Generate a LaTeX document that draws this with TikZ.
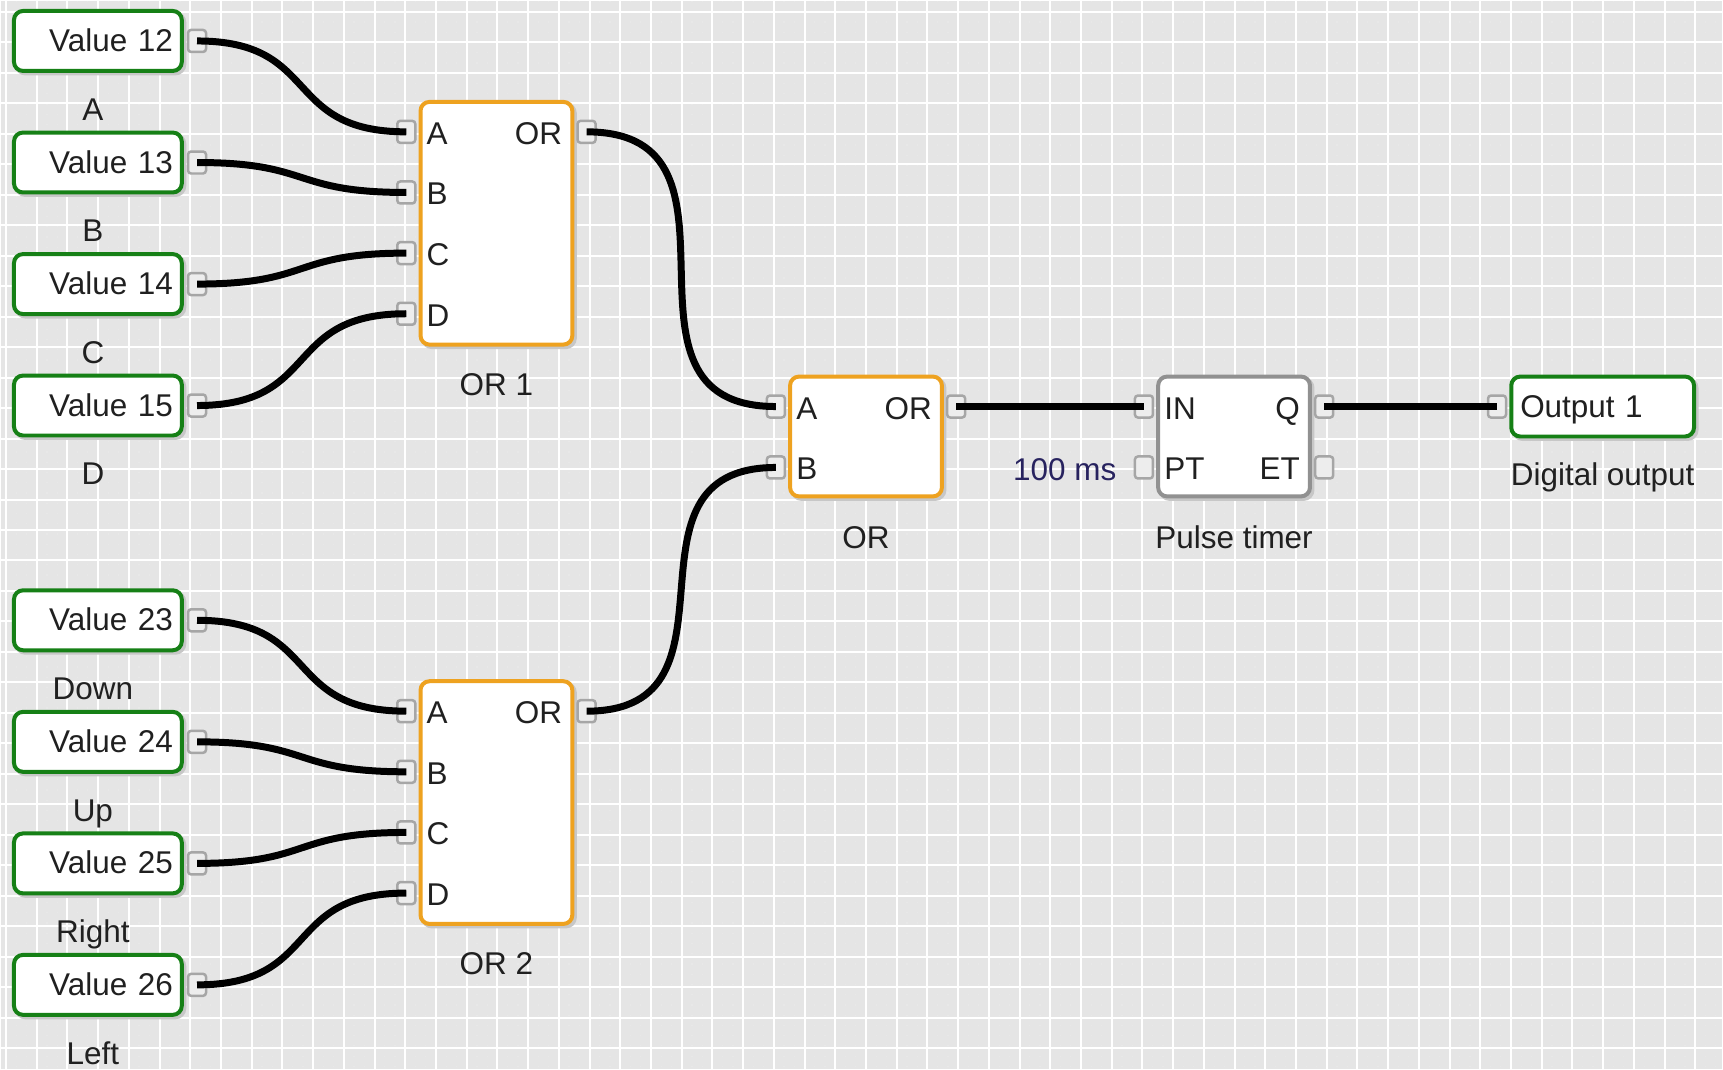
\documentclass[tikz,border=0pt]{standalone}
\usepackage{fontspec}
\setmainfont{Liberation Sans}
\usetikzlibrary{positioning,calc}

\definecolor{gridbg}{RGB}{229,229,229}
\definecolor{valgreen}{RGB}{22,128,22}
\definecolor{gateorange}{RGB}{238,162,32}
\definecolor{tmrgray}{RGB}{145,145,145}
\definecolor{msblue}{RGB}{40,35,95}
\definecolor{txtgray}{RGB}{32,32,32}

\tikzset{
    gridline/.style={white, line width=2pt},
    subgrid/.style={black!9, line width=1.2pt, dash pattern=on 1.2pt off 9.05pt},
    blk/.style={draw, fill=white, line width=4pt, rounded corners=9pt, inner sep=0pt,
        preaction={draw=black!22, line width=4pt, transform canvas={shift={(2.5pt,-2.5pt)}}}},
    valbox/.style={blk, draw=valgreen, minimum height=60pt, text width=150pt, align=right,
        inner xsep=9pt, text height=21pt, text depth=0pt},
    outbox/.style={blk, draw=valgreen, minimum height=60pt, text width=165pt, align=left,
        inner xsep=9pt, text height=21pt, text depth=0pt},
    orbox/.style={blk, draw=gateorange, minimum width=152pt},
    tmrbox/.style={blk, draw=tmrgray, minimum width=152pt, minimum height=120pt},
    portbox/.style={draw=black!35, fill=black!7, line width=2.5pt, rounded corners=3pt,
        minimum width=18pt, minimum height=22pt, inner sep=0pt},
    pintxt/.style={inner sep=0pt, text height=21pt, text depth=0pt},
    lbl/.style={inner sep=0pt, text height=21pt, text depth=0pt},
    wire/.style={black, line width=7pt}
}

\begin{document}
\begin{tikzpicture}[x=1pt, y=-1pt,
        every node/.append style={font=\fontsize{31.5}{36}\selectfont, text=txtgray}]
        % background grid
        \fill[gridbg] (0,0) rectangle (1723,1069);
        \foreach \i in {0,...,55} {
            \draw[subgrid] ({15.25+30.75*\i},0) -- ++(0,1069);
            \draw[subgrid] ({25.5+30.75*\i},0) -- ++(0,1069);
            \draw[gridline] ({5+30.75*\i},0) -- ++(0,1069);
        }
        \foreach \j in {0,...,34} \draw[gridline] (0,{10.6+30.53*\j}) -- ++(1723,0);
        \useasboundingbox (0,0) rectangle (1723,1069);

        % input values
        \foreach \n/\y/\t in {12/40/A, 13/161.7/B, 14/283.4/C, 15/405/D,
                23/620/Down, 24/741.7/Up, 25/863.4/Right, 26/985/Left} {
            \node[valbox] (v\n) at (97,\y) {Value \n};
            \node[portbox, anchor=west] (v\n-o) at ($(v\n.east)+(3,0)$) {};
            \node[lbl] at (92,\y+69) {\t};
        }

        % OR gates with four inputs
        \node[orbox, minimum height=243pt] (or1) at (496,222.5) {};
        \node[orbox, minimum height=243pt] (or2) at (496,802.5) {};
        \foreach \g in {or1,or2} {
            \foreach \p [count=\k from 0] in {A,B,C,D} {
                \node[portbox, anchor=east] (\g-\p) at ($(\g.north west)+(-2,32+60.7*\k)$) {};
                \node[pintxt, anchor=west] at ($(\g.north west)+(8,34+60.7*\k)$) {\p};
            }
            \node[portbox, anchor=west] (\g-o) at ($(\g.north east)+(2,32)$) {};
            \node[pintxt, anchor=east] at ($(\g.north east)+(-12,34)$) {OR};
        }
        \node[lbl] at ($(or1.south)+(0,38)$) {OR 1};
        \node[lbl] at ($(or2.south)+(0,38)$) {OR 2};

        % OR gate with two inputs
        \node[orbox, minimum height=120pt] (orm) at (866,436) {};
        \node[portbox, anchor=east] (orm-A) at ($(orm.north west)+(-2,32)$) {};
        \node[portbox, anchor=east] (orm-B) at ($(orm.north west)+(-2,93)$) {};
        \node[portbox, anchor=west] (orm-o) at ($(orm.north east)+(2,32)$) {};
        \node[pintxt, anchor=west] at ($(orm.north west)+(8,34)$) {A};
        \node[pintxt, anchor=west] at ($(orm.north west)+(8,95)$) {B};
        \node[pintxt, anchor=east] at ($(orm.north east)+(-12,34)$) {OR};
        \node[lbl] at ($(orm.south)+(0,40)$) {OR};

        % pulse timer
        \node[tmrbox] (tp) at (1234.5,436) {};
        \node[portbox, anchor=east] (tp-in) at ($(tp.north west)+(-2,32)$) {};
        \node[portbox, anchor=east] (tp-pt) at ($(tp.north west)+(-2,93)$) {};
        \node[portbox, anchor=west] (tp-q) at ($(tp.north east)+(2,32)$) {};
        \node[portbox, anchor=west] (tp-et) at ($(tp.north east)+(2,93)$) {};
        \node[pintxt, anchor=west] at ($(tp.north west)+(8,34)$) {IN};
        \node[pintxt, anchor=west] at ($(tp.north west)+(8,95)$) {PT};
        \node[pintxt, anchor=east] at ($(tp.north east)+(-12,34)$) {Q};
        \node[pintxt, anchor=east] at ($(tp.north east)+(-12,95)$) {ET};
        \node[lbl] at ($(tp.south)+(0,40)$) {Pulse timer};
        \node[lbl, text=msblue] at (1065,470) {100 ms};

        % output
        \node[outbox] (out1) at (1603.5,406) {Output 1};
        \node[portbox, anchor=east] (out1-i) at ($(out1.west)+(-2,0)$) {};
        \node[lbl] at ($(out1.south)+(0,37)$) {Digital output};

        % wires
        \foreach \a/\b in {v12-o/or1-A, v13-o/or1-B, v14-o/or1-C, v15-o/or1-D,
                v23-o/or2-A, v24-o/or2-B, v25-o/or2-C, v26-o/or2-D,
                or1-o/orm-A, or2-o/orm-B}
            \draw[wire] (\a.center) to[out=0, in=180, looseness=1.4] (\b.center);
        \draw[wire] (orm-o.center) -- (tp-in.center);
        \draw[wire] (tp-q.center) -- (out1-i.center);
\end{tikzpicture}
\end{document}
